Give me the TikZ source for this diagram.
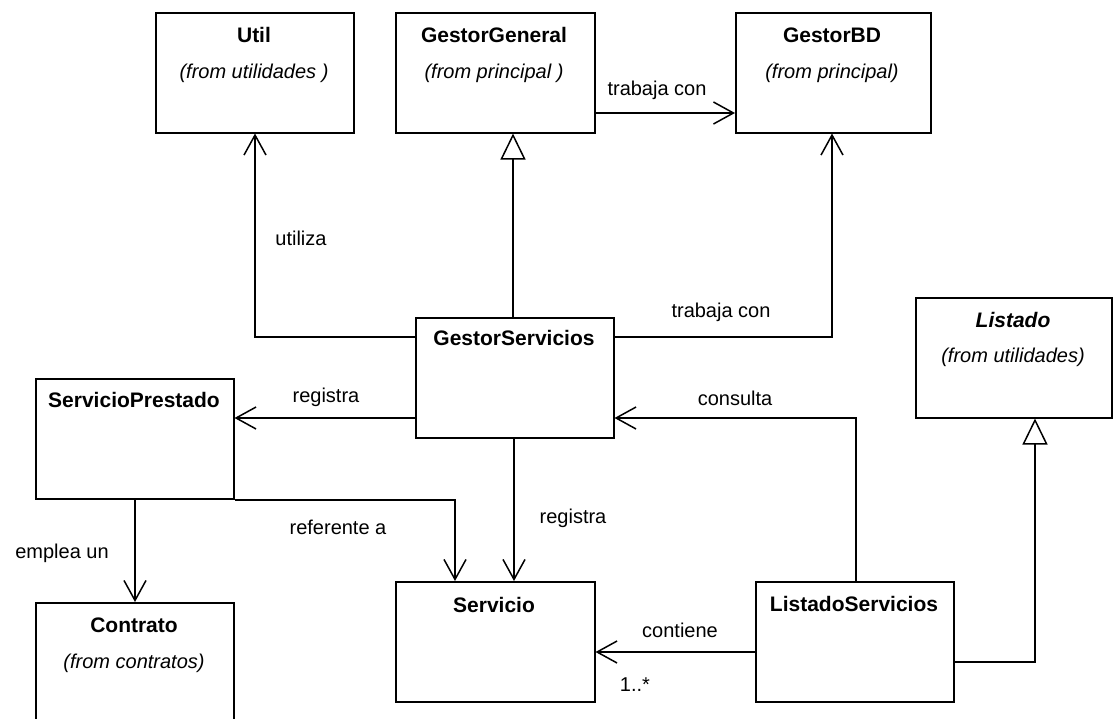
\documentclass[tikz,border=0pt]{standalone}
\usepackage{fontspec}
\setmainfont{Liberation Sans}
\usetikzlibrary{arrows.meta}
\begin{document}
\begin{tikzpicture}[x=1pt,y=-1pt,
  box/.style={draw, line width=1.5pt, rectangle, inner sep=0pt, anchor=north west, minimum width=198pt, minimum height=120pt},
  ttl/.style={font=\fontsize{21}{24}\selectfont\bfseries, inner sep=0pt},
  sub/.style={font=\fontsize{20}{24}\selectfont\itshape, inner sep=0pt},
  lbl/.style={font=\fontsize{20}{24}\selectfont, inner sep=0pt},
  assoc/.style={draw, line width=1.5pt, -{Straight Barb[length=20pt,width=22pt]}},
  inh/.style={draw, line width=1.5pt, -{Triangle[open,length=26pt,width=25pt,fill=white]}},
]
\useasboundingbox (0,0) rectangle (1113,718);
\clip (0,0) rectangle (1113,718);
\fill[white] (0,0) rectangle (1113,718);

% boxes
\node[box] (util) at (155,12) {};
\node[box, minimum width=199pt] (gg) at (395,12) {};
\node[box, minimum width=195pt] (gbd) at (735,12) {};
\node[box] (gs) at (415,317) {};
\node[box, minimum width=196pt] (listado) at (915,297) {};
\node[box] (sp) at (35,378) {};
\node[box, minimum height=140pt] (contrato) at (35,602) {};
\node[box, minimum width=199pt] (servicio) at (395,581) {};
\node[box] (ls) at (755,581) {};

% titles
\node[ttl] (util-t) at (254,35) {Util};
\node[sub] (util-s) at (254,73) {(from utilidades )};
\node[ttl] (gg-t) at (494,35) {GestorGeneral};
\node[sub] (gg-s) at (494,73) {(from principal )};
\node[ttl] (gbd-t) at (832,35) {GestorBD};
\node[sub] (gbd-s) at (832,73) {(from principal)};
\node[ttl] (gs-t) at (514,338) {GestorServicios};
\node[ttl, font=\fontsize{21}{24}\selectfont\bfseries\itshape] (listado-t) at (1013,320) {Listado};
\node[sub] (listado-s) at (1013,357) {(from utilidades)};
\node[ttl] (sp-t) at (134,400) {ServicioPrestado};
\node[ttl] (contrato-t) at (134,625) {Contrato};
\node[sub] (contrato-s) at (134,663) {(from contratos)};
\node[ttl] (servicio-t) at (494,605) {Servicio};
\node[ttl] (ls-t) at (854,604) {ListadoServicios};

% helper coordinates
\coordinate (uA) at (255,337);
\coordinate (ggA) at (513,0);
\coordinate (bdA) at (832,337);
\coordinate (ggbd) at (0,113);
\coordinate (spA) at (0,418);
\coordinate (csA) at (856,418);
\coordinate (svA) at (514,0);
\coordinate (rfA) at (455,500);
\coordinate (ctA) at (135,0);
\coordinate (coA) at (0,652);
\coordinate (liA) at (1035,662);

% connectors
\draw[assoc] (gs.west |- uA) -- (uA) -- (util.south -| uA);
\draw[inh] (gs.north -| ggA) -- (gg.south -| ggA);
\draw[assoc] (gs.east |- bdA) -- (bdA) -- (gbd.south -| bdA);
\draw[assoc] (gg.east |- ggbd) -- (gbd.west |- ggbd);
\draw[assoc] (gs.west |- spA) -- (sp.east |- spA);
\draw[assoc] (ls.north -| csA) -- (csA) -- (gs.east |- csA);
\draw[assoc] (gs.south -| svA) -- (servicio.north -| svA);
\draw[assoc] (sp.east |- rfA) -- (rfA) -- (servicio.north -| rfA);
\draw[assoc] (sp.south -| ctA) -- (contrato.north -| ctA);
\draw[assoc] (ls.west |- coA) -- (servicio.east |- coA);
\draw[inh] (ls.east |- liA) -- (liA) -- (listado.south -| liA);

% labels
\node[lbl] (l-utiliza) at (301,238) {utiliza};
\node[lbl] (l-trab1) at (657,90) {trabaja con};
\node[lbl] (l-trab2) at (721,312) {trabaja con};
\node[lbl] (l-reg1) at (326,397) {registra};
\node[lbl] (l-cons) at (735,398) {consulta};
\node[lbl] (l-reg2) at (573,518) {registra};
\node[lbl] (l-ref) at (338,527) {referente a};
\node[lbl] (l-emp) at (62,553) {emplea un};
\node[lbl] (l-cont) at (680,630) {contiene};
\node[lbl] (l-mult) at (635,685) {1..*};
\end{tikzpicture}
\end{document}
